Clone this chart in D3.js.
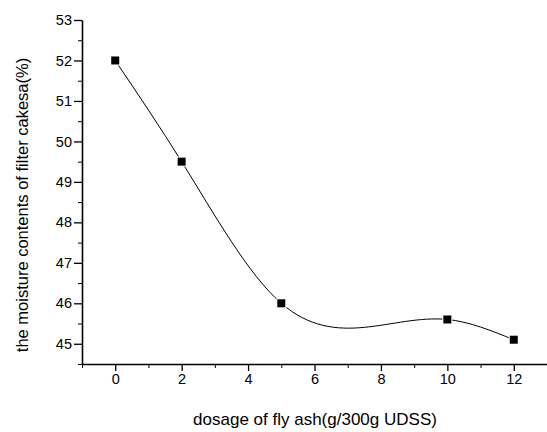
<!DOCTYPE html>
<html>
<head>
<meta charset="utf-8">
<script src="https://cdn.jsdelivr.net/npm/d3@7"></script>
<style>
  body { margin: 0; background: #fff; }
  text { font-family: Arial, "Liberation Sans", sans-serif; fill: #000; }
</style>
</head>
<body>
<svg width="547" height="432"></svg>
<script>
const dosage = [0, 2, 5, 10, 12];
const moisture = [52, 49.5, 46, 45.6, 45.1];
const xTicks = [0, 2, 4, 6, 8, 10, 12];
const yTicks = [45, 46, 47, 48, 49, 50, 51, 52, 53];

const svg = d3.select("svg");

const x = d3.scaleLinear().domain([-1, 13]).range([82, 547]);
const y = d3.scaleLinear().domain([44.5, 53]).range([364, 20]);

// natural cubic spline y(x), like Origin's "spline" connect
function curveSplineX(context) {
    let xs, ys;
    return {
        areaStart() {}, areaEnd() {},
        lineStart() { xs = []; ys = []; },
        point(px, py) { xs.push(+px); ys.push(+py); },
        lineEnd() {
            const n = xs.length - 1;
            if (n < 0) return;
            context.moveTo(xs[0], ys[0]);
            if (n < 1) return;
            const h = d3.range(n).map(i => xs[i + 1] - xs[i]);
            // tridiagonal solve for second derivatives, M0 = Mn = 0
            const M = new Array(n + 1).fill(0);
            if (n > 1) {
                const a = [], b = [], c = [], r = [];
                for (let i = 1; i < n; i++) {
                    a.push(h[i - 1]);
                    b.push(2 * (h[i - 1] + h[i]));
                    c.push(h[i]);
                    r.push(6 * ((ys[i + 1] - ys[i]) / h[i] - (ys[i] - ys[i - 1]) / h[i - 1]));
                }
                const m = b.length;
                for (let i = 1; i < m; i++) {
                    const w = a[i] / b[i - 1];
                    b[i] -= w * c[i - 1];
                    r[i] -= w * r[i - 1];
                }
                const sol = new Array(m);
                sol[m - 1] = r[m - 1] / b[m - 1];
                for (let i = m - 2; i >= 0; i--) sol[i] = (r[i] - c[i] * sol[i + 1]) / b[i];
                for (let i = 0; i < m; i++) M[i + 1] = sol[i];
            }
            for (let i = 0; i < n; i++) {
                const hi = h[i];
                const s = (ys[i + 1] - ys[i]) / hi;
                const d0 = s - hi * (2 * M[i] + M[i + 1]) / 6;
                const d1 = s + hi * (M[i] + 2 * M[i + 1]) / 6;
                context.bezierCurveTo(
                    xs[i] + hi / 3, ys[i] + d0 * hi / 3,
                    xs[i + 1] - hi / 3, ys[i + 1] - d1 * hi / 3,
                    xs[i + 1], ys[i + 1]);
            }
        }
    };
}

// minor ticks first, majors drawn on top
svg.append("g")
    .attr("transform", "translate(0,364)")
    .call(d3.axisBottom(x).tickValues(d3.range(-1, 14, 2)).tickSize(4).tickFormat(""))
    .call(g => g.select(".domain").remove());

svg.append("g")
    .attr("transform", "translate(82,0)")
    .call(d3.axisLeft(y).tickValues(d3.range(44.5, 53, 1)).tickSize(4).tickFormat(""))
    .call(g => g.select(".domain").remove());

const xAxis = svg.append("g")
    .attr("transform", "translate(0,364)")
    .call(d3.axisBottom(x).tickValues(xTicks).tickSize(7).tickSizeOuter(0).tickPadding(3));

const yAxis = svg.append("g")
    .attr("transform", "translate(82,0)")
    .call(d3.axisLeft(y).tickValues(yTicks).tickSize(8).tickSizeOuter(0).tickPadding(2));

[xAxis, yAxis].forEach(g => {
    g.selectAll("text").attr("font-size", "14.5px").attr("fill", "#000");
    g.selectAll("line").attr("stroke-width", 1.3);
    g.select(".domain").attr("stroke", "#000").attr("stroke-width", 1.6);
});
svg.selectAll("g line").attr("stroke", "#000");

const pts = dosage.map((d, i) => [d, moisture[i]]);

const line = d3.line()
    .x(d => x(d[0]))
    .y(d => y(d[1]))
    .curve(curveSplineX);

svg.append("path")
    .datum(pts)
    .attr("fill", "none")
    .attr("stroke", "#000")
    .attr("stroke-width", 1)
    .attr("d", line);

svg.append("g")
    .selectAll("rect")
    .data(pts)
    .enter().append("rect")
    .attr("x", d => x(d[0]) - 4)
    .attr("y", d => y(d[1]) - 4)
    .attr("width", 8)
    .attr("height", 8)
    .attr("fill", "#000")
    .attr("stroke", "#fff")
    .attr("stroke-width", 2)
    .attr("paint-order", "stroke");

svg.append("text")
    .attr("x", 315)
    .attr("y", 425)
    .attr("text-anchor", "middle")
    .attr("font-size", "17px")
    .text("dosage of fly ash(g/300g UDSS)");

svg.append("text")
    .attr("transform", "translate(28,205) rotate(-90)")
    .attr("text-anchor", "middle")
    .attr("font-size", "16.5px")
    .text("the moisture contents of filter cakesa(%)");
</script>
</body>
</html>
